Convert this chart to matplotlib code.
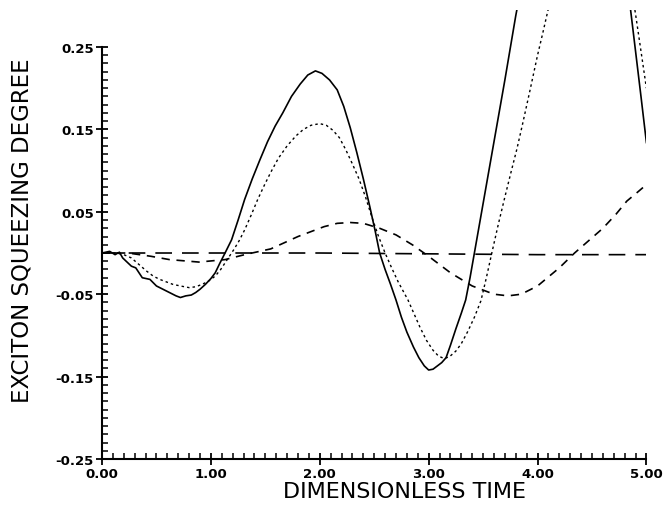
import matplotlib
matplotlib.use("Agg")
import matplotlib.pyplot as plt
from matplotlib.ticker import MultipleLocator, FixedLocator
import numpy as np

# solid curve (two visible pieces, goes off the top in between)
t_solid = [0.0, 0.07, 0.12, 0.16, 0.19, 0.27, 0.31, 0.37, 0.44, 0.50, 0.56, 0.62, 0.68,
           0.72, 0.77, 0.82, 0.86, 0.90, 0.95, 1.00, 1.04, 1.08, 1.13, 1.19, 1.25, 1.31,
           1.38, 1.45, 1.52, 1.59, 1.66, 1.74, 1.82, 1.89, 1.96, 2.02, 2.09, 2.16, 2.22,
           2.28, 2.34, 2.40, 2.46, 2.51, 2.55, 2.60, 2.65, 2.70, 2.75, 2.80, 2.86, 2.91,
           2.96, 3.00, 3.04, 3.08, 3.12, 3.16, 3.20, 3.25, 3.30, 3.34, 3.38, 3.42, 3.50,
           3.60, 3.70, 3.80, 3.86]
v_solid = [0.0, 0.002, -0.002, 0.001, -0.006, -0.016, -0.018, -0.030, -0.032, -0.040,
           -0.044, -0.048, -0.052, -0.054, -0.052, -0.051, -0.048, -0.044, -0.038, -0.031,
           -0.024, -0.013, 0.0, 0.016, 0.040, 0.065, 0.090, 0.113, 0.135, 0.154, 0.170,
           0.190, 0.205, 0.216, 0.221, 0.218, 0.210, 0.198, 0.178, 0.152, 0.122, 0.090,
           0.056, 0.026, 0.0, -0.020, -0.038, -0.057, -0.078, -0.096, -0.114, -0.127,
           -0.137, -0.142, -0.141, -0.137, -0.133, -0.127, -0.112, -0.092, -0.073, -0.057,
           -0.030, 0.0, 0.060, 0.135, 0.210, 0.288, 0.33]
t_solid2 = [4.80, 4.85, 4.90, 4.95, 5.00]
v_solid2 = [0.34, 0.30, 0.245, 0.19, 0.134]

# fine dotted curve
t_dot = [0.0, 0.13, 0.20, 0.27, 0.34, 0.41, 0.47, 0.53, 0.59, 0.65, 0.72, 0.80, 0.86,
         0.92, 0.98, 1.04, 1.09, 1.13, 1.17, 1.21, 1.26, 1.31, 1.37, 1.43, 1.49, 1.55,
         1.62, 1.70, 1.78, 1.85, 1.92, 2.00, 2.06, 2.12, 2.18, 2.24, 2.30, 2.36, 2.42,
         2.48, 2.54, 2.60, 2.66, 2.72, 2.81, 2.86, 2.92, 2.98, 3.04, 3.09, 3.14, 3.19,
         3.25, 3.30, 3.36, 3.42, 3.48, 3.53, 3.58, 3.64, 3.70, 3.76, 3.81, 3.86, 3.93,
         4.00, 4.05, 4.10, 4.16]
v_dot = [0.0, 0.0, -0.002, -0.006, -0.014, -0.022, -0.028, -0.032, -0.035, -0.038,
         -0.040, -0.042, -0.041, -0.038, -0.034, -0.028, -0.020, -0.012, -0.004, 0.004,
         0.015, 0.028, 0.046, 0.065, 0.082, 0.098, 0.115, 0.130, 0.142, 0.150, 0.155,
         0.157, 0.155, 0.149, 0.140, 0.125, 0.108, 0.090, 0.068, 0.043, 0.020, 0.0,
         -0.018, -0.035, -0.057, -0.072, -0.090, -0.106, -0.118, -0.125, -0.128, -0.126,
         -0.119, -0.110, -0.095, -0.078, -0.058, -0.030, 0.0, 0.035, 0.068, 0.100, 0.126,
         0.155, 0.197, 0.240, 0.268, 0.297, 0.33]
t_dot2 = [4.84, 4.90, 4.95, 5.00]
v_dot2 = [0.34, 0.29, 0.245, 0.20]

# medium dashed curve
t_med = [0.0, 0.24, 0.45, 0.62, 0.89, 1.13, 1.31, 1.55, 1.80, 2.04, 2.16, 2.28, 2.40,
         2.55, 2.70, 2.85, 3.00, 3.20, 3.40, 3.60, 3.73, 3.85, 4.00, 4.20, 4.34, 4.47,
         4.60, 4.72, 4.82, 4.92, 5.00]
v_med = [0.0, 0.0, -0.004, -0.008, -0.011, -0.008, -0.002, 0.005, 0.020, 0.032, 0.036,
         0.037, 0.036, 0.030, 0.022, 0.010, -0.004, -0.024, -0.040, -0.050, -0.052,
         -0.050, -0.040, -0.018, 0.0, 0.015, 0.030, 0.047, 0.063, 0.074, 0.083]

# long dashed curve (stays near zero)
t_long = [0.0, 1.0, 2.0, 3.0, 4.0, 5.0]
v_long = [0.0, 0.0, 0.0, -0.001, -0.002, -0.002]

x_ticks = [0, 1, 2, 3, 4, 5]
x_labels = ["0.00", "1.00", "2.00", "3.00", "4.00", "5.00"]
y_ticks = [-0.25, -0.15, -0.05, 0.05, 0.15, 0.25]
y_labels = ["-0.25", "-0.15", "-0.05", "0.05", "0.15", "0.25"]

fig = plt.figure(figsize=(6.68, 5.10), dpi=100)
ax = fig.add_axes([0.1527, 0.098, 0.815, 0.8806])

ax.plot(t_solid, v_solid, color="black", lw=1.2)
ax.plot(t_solid2, v_solid2, color="black", lw=1.2)
ax.plot(t_dot, v_dot, color="black", lw=1.0, dashes=(1.8, 2.2))
ax.plot(t_dot2, v_dot2, color="black", lw=1.0, dashes=(1.8, 2.2))
ax.plot(t_med, v_med, color="black", lw=1.2, dashes=(5, 4))
ax.plot(t_long, v_long, color="black", lw=1.2, dashes=(10, 6))

ax.set_xlim(0, 5)
ax.set_ylim(-0.25, 0.295)

for s in ["top", "right"]:
    ax.spines[s].set_visible(False)
ax.spines["left"].set_bounds(-0.25, 0.25)
ax.spines["bottom"].set_bounds(0, 5)
ax.spines["left"].set_linewidth(1.5)
ax.spines["bottom"].set_linewidth(1.5)

ax.xaxis.set_major_locator(FixedLocator(x_ticks))
ax.set_xticklabels(x_labels)
ax.yaxis.set_major_locator(FixedLocator(y_ticks))
ax.set_yticklabels(y_labels)
ax.xaxis.set_minor_locator(MultipleLocator(0.1))
ax.yaxis.set_minor_locator(FixedLocator(np.arange(-0.25, 0.2501, 0.01)))

ax.tick_params(which="major", direction="inout", length=8, width=1.3,
               labelsize=9.5, pad=2)
ax.tick_params(which="minor", direction="in", length=4, width=1.1)
for lab in ax.get_xticklabels() + ax.get_yticklabels():
    lab.set_fontweight("bold")

ax.set_xlabel("DIMENSIONLESS TIME", fontsize=16, labelpad=0)
ax.xaxis.set_label_coords(0.555, -0.048)
ax.set_ylabel("EXCITON SQUEEZING DEGREE", fontsize=16.5)
ax.yaxis.set_label_coords(-0.125, 0.51)

fig.savefig("out.png", dpi=100)
